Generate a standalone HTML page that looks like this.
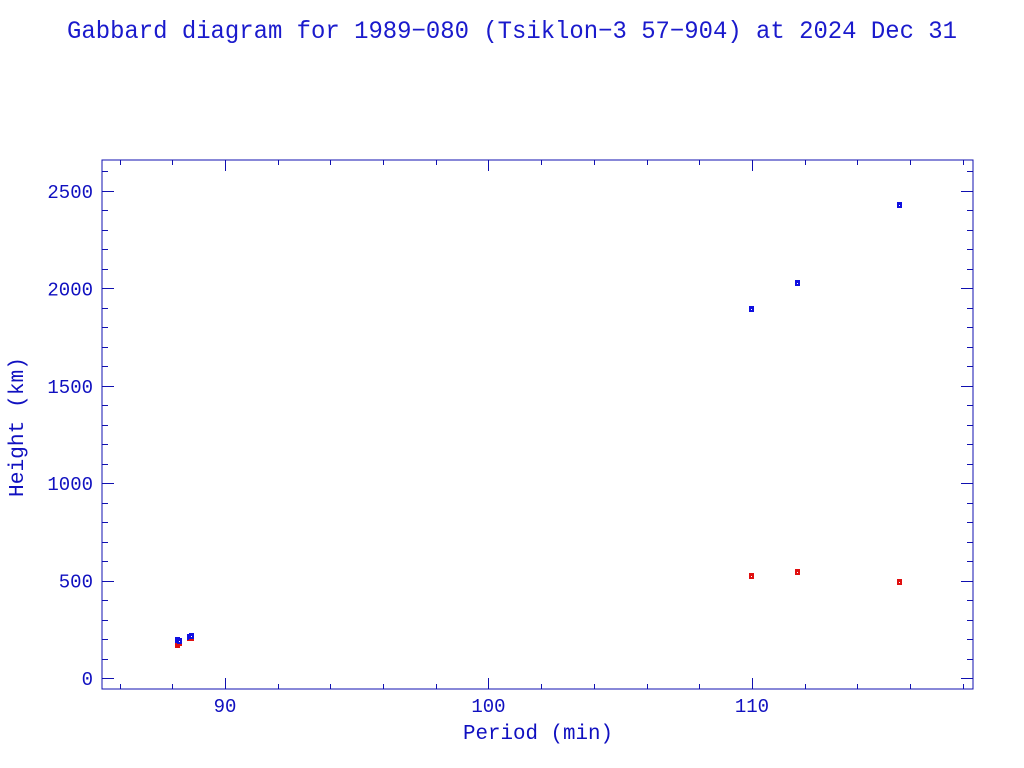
<!DOCTYPE html>
<html><head><meta charset="utf-8"><style>body{margin:0;background:#fff}svg{display:block}</style></head>
<body>
<svg id="chart" width="1024" height="768" xmlns="http://www.w3.org/2000/svg" font-family="Liberation Mono, monospace" fill="#1010c0">
<text x="67" y="38" font-size="25" textLength="890" lengthAdjust="spacingAndGlyphs" fill="#1a1acc">Gabbard diagram for 1989−080 (Tsiklon−3 57−904) at 2024 Dec 31</text>
<rect x="102" y="160" width="871" height="529" fill="none" stroke="#1010b0" stroke-width="1"/>
<g id="axes"></g>
<g id="marks"></g>
<text x="463" y="739" font-size="21" textLength="150" lengthAdjust="spacingAndGlyphs">Period (min)</text>
<text transform="translate(23,497) rotate(-90)" font-size="21" textLength="140" lengthAdjust="spacingAndGlyphs">Height (km)</text>
</svg>
<script>
const periods = [88.18, 88.25, 88.62, 88.7, 109.96, 111.7, 115.6];
const apogees = [195, 190, 212, 218, 1894, 2028, 2428];
const perigees = [169, 180, 205, 208, 524, 544, 493];
const xTickLabels = [90, 100, 110];
const yTickLabels = [0, 500, 1000, 1500, 2000, 2500];
const NS='http://www.w3.org/2000/svg';
const X0=102,X1=973,Y0=689,Y1=160;
const xmin=85.33,xmax=118.39,ymin=-56,ymax=2659;
const sx=v=>X0+(v-xmin)/(xmax-xmin)*(X1-X0);
const sy=v=>Y0-(v-ymin)/(ymax-ymin)*(Y0-Y1);
const axes=document.getElementById('axes'),marks=document.getElementById('marks');
function mk(t,a,p){const e=document.createElementNS(NS,t);for(const k in a)e.setAttribute(k,a[k]);p.appendChild(e);return e;}
const st={stroke:'#1010b0','stroke-width':1};
for(let v=86;v<=118;v+=2){const x=Math.round(sx(v))+0.5;const L=(v%10===0)?11:5;
 const t1=mk('line',Object.assign({x1:x,x2:x,y1:Y0,y2:Y0-L},st),axes);
 
 const t2=mk('line',Object.assign({x1:x,x2:x,y1:Y1,y2:Y1+L},st),axes);
 }
for(let v=0;v<=2600;v+=100){const y=Math.round(sy(v))+0.5;const L=(v%500===0)?12:6;
 const t1=mk('line',Object.assign({x1:X0,x2:X0+L,y1:y,y2:y},st),axes);
 
 const t2=mk('line',Object.assign({x1:X1,x2:X1-L,y1:y,y2:y},st),axes);
 }
xTickLabels.forEach(v=>{const e=mk('text',{x:sx(v),y:712,'font-size':19,'text-anchor':'middle'},axes);e.textContent=v;
 });
yTickLabels.forEach(v=>{const e=mk('text',{x:93,y:sy(v)+7,'font-size':19,'text-anchor':'end'},axes);e.textContent=v;
 });
function pt(x,y,c,name){const g=mk('g',{},marks);
 
 mk('rect',{x:Math.round(sx(x))-2,y:Math.round(sy(y))-3,width:5,height:6,fill:c},g);
 mk('rect',{x:Math.round(sx(x)),y:Math.round(sy(y)),width:1,height:1,fill:'#fff'},g);}
periods.forEach((p,i)=>{pt(p,perigees[i],'#e01010','perigee-point');pt(p,apogees[i],'#1010e0','apogee-point');});
</script>
</body></html>
